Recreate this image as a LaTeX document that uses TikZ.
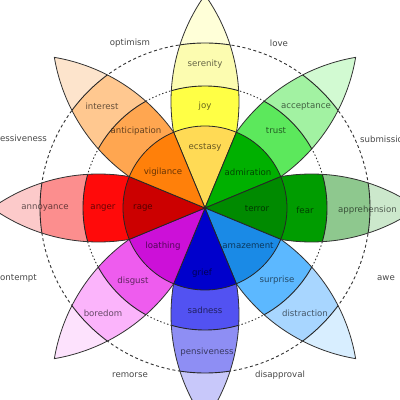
\documentclass[tikz,border=0pt]{standalone}
\usepackage{fontspec}
\setmainfont{DejaVu Sans}
\begin{document}
\begin{tikzpicture}[x=1pt,y=1pt,
  ringline/.style={draw=black!85,line width=0.9pt},
  petalline/.style={draw=black!80,line width=0.8pt},
  wedgeline/.style={draw=black!85,line width=0.8pt},
  outlbl/.style={font=\fontsize{8.6}{10}\selectfont,text=black!72,inner sep=0pt},
  inlbl/.style={font=\fontsize{8.6}{10}\selectfont,text=black,text opacity=0.6,inner sep=0pt}]
\useasboundingbox (0,0) rectangle (400,400);
\clip (0,0) rectangle (400,400);
\fill[white] (0,0) rectangle (400,400);
% dashed circles
\draw[black!80,line width=0.9pt,dash pattern=on 3pt off 2.6pt] (205,192) circle[radius=165];
\draw[black!80,line width=0.9pt,dash pattern=on 1.4pt off 2.2pt] (205,192) circle[radius=122];
\newcommand{\emopetal}[4]{%
\begin{scope}[shift={(205,192)},rotate=#1]
 \begin{scope}
  \clip (0,0) arc[start angle=125.4,end angle=54.6,radius=183.9] arc[start angle=-54.6,end angle=-125.4,radius=183.9] -- cycle;
  \fill[#2] (0,0) circle[radius=230];
  \fill[#3] (0,0) circle[radius=165];
  \fill[#4] (0,0) circle[radius=122];
  \draw[ringline] (0,0) circle[radius=165] (0,0) circle[radius=122];
 \end{scope}
 \draw[petalline] (0,0) arc[start angle=125.4,end angle=54.6,radius=183.9] arc[start angle=-54.6,end angle=-125.4,radius=183.9] -- cycle;
\end{scope}}
\newcommand{\emowedge}[2]{%
\begin{scope}[shift={(205,192)}]
 \filldraw[fill=#2,wedgeline] (0,0) -- (#1-22.5:82) arc[start angle=#1-22.5,end angle=#1+22.5,radius=82] -- cycle;
\end{scope}}
\definecolor{ytip}{HTML}{FFFFD8}\definecolor{yout}{HTML}{FCFCB0}\definecolor{ymid}{HTML}{FFFF45}\definecolor{yin}{HTML}{FFDA55}
\definecolor{gtip}{HTML}{D2FAD2}\definecolor{gout}{HTML}{A2F2A2}\definecolor{gmid}{HTML}{5CE85C}\definecolor{gin}{HTML}{00B000}
\definecolor{dtip}{HTML}{CCE8CC}\definecolor{dout}{HTML}{8EC88E}\definecolor{dmid}{HTML}{009C00}\definecolor{din}{HTML}{008A00}
\definecolor{btip}{HTML}{D8EEFF}\definecolor{bout}{HTML}{A8D6FF}\definecolor{bmid}{HTML}{5CB8FF}\definecolor{bin}{HTML}{1A8AE6}
\definecolor{ntip}{HTML}{C8C8FA}\definecolor{nout}{HTML}{8E8EF4}\definecolor{nmid}{HTML}{5252F2}\definecolor{nin}{HTML}{0000CC}
\definecolor{mtip}{HTML}{FDE2FD}\definecolor{mout}{HTML}{FBB4FB}\definecolor{mmid}{HTML}{EE5CEE}\definecolor{minn}{HTML}{CC10D8}
\definecolor{rtip}{HTML}{FCCACA}\definecolor{rout}{HTML}{FC8E8E}\definecolor{rmid}{HTML}{FF0A0A}\definecolor{rin}{HTML}{CC0000}
\definecolor{otip}{HTML}{FDE4CC}\definecolor{oout}{HTML}{FFC890}\definecolor{omid}{HTML}{FFA650}\definecolor{oin}{HTML}{FF800A}
\emopetal{90}{ytip}{yout}{ymid}
\emopetal{45}{gtip}{gout}{gmid}
\emopetal{0}{dtip}{dout}{dmid}
\emopetal{-45}{btip}{bout}{bmid}
\emopetal{-90}{ntip}{nout}{nmid}
\emopetal{-135}{mtip}{mout}{mmid}
\emopetal{180}{rtip}{rout}{rmid}
\emopetal{135}{otip}{oout}{omid}
\emowedge{90}{yin}
\emowedge{45}{gin}
\emowedge{0}{din}
\emowedge{-45}{bin}
\emowedge{-90}{nin}
\emowedge{-135}{minn}
\emowedge{180}{rin}
\emowedge{135}{oin}
\begin{scope}[yshift=400pt,yscale=-1]
% inner
\node[inlbl] (ecstasy) at (205,147) {ecstasy};
\node[inlbl] (vigilance) at (163,172) {vigilance};
\node[inlbl] (rage) at (143,208) {rage};
\node[inlbl] (loathing) at (163,246) {loathing};
\node[inlbl] (grief) at (202,273) {grief};
\node[inlbl] (amazement) at (248,246) {amazement};
\node[inlbl] (terror) at (257,209) {terror};
\node[inlbl] (admiration) at (248,172) {admiration};
% middle
\node[inlbl] (joy) at (205,106) {joy};
\node[inlbl] (anticipation) at (136,131) {anticipation};
\node[inlbl] (anger) at (103,208) {anger};
\node[inlbl] (disgust) at (133,281) {disgust};
\node[inlbl] (sadness) at (205,310) {sadness};
\node[inlbl] (surprise) at (277,280) {surprise};
\node[inlbl] (fear) at (305,210) {fear};
\node[inlbl] (trust) at (276,131) {trust};
% outer
\node[inlbl] (serenity) at (205,64) {serenity};
\node[inlbl] (interest) at (102,106) {interest};
\node[inlbl] (annoyance) at (45,208) {annoyance};
\node[inlbl] (boredom) at (103,313) {boredom};
\node[inlbl] (pensiveness) at (207,352) {pensiveness};
\node[inlbl] (distraction) at (305,313) {distraction};
\node[inlbl,anchor=west] (apprehension) at (338,210) {apprehension};
\node[inlbl] (acceptance) at (306,106) {acceptance};
% dyads
\node[outlbl] (optimism) at (130,43) {optimism};
\node[outlbl] (love) at (279,43) {love};
\node[outlbl,anchor=west] (submission) at (360,139) {submission};
\node[outlbl] (awe) at (386,278) {awe};
\node[outlbl] (disapproval) at (280,375) {disapproval};
\node[outlbl] (remorse) at (130,375) {remorse};
\node[outlbl,anchor=east] (contempt) at (37,278) {contempt};
\node[outlbl,anchor=east] (aggressiveness) at (47,139) {aggressiveness};
\end{scope}
\end{tikzpicture}
\end{document}
